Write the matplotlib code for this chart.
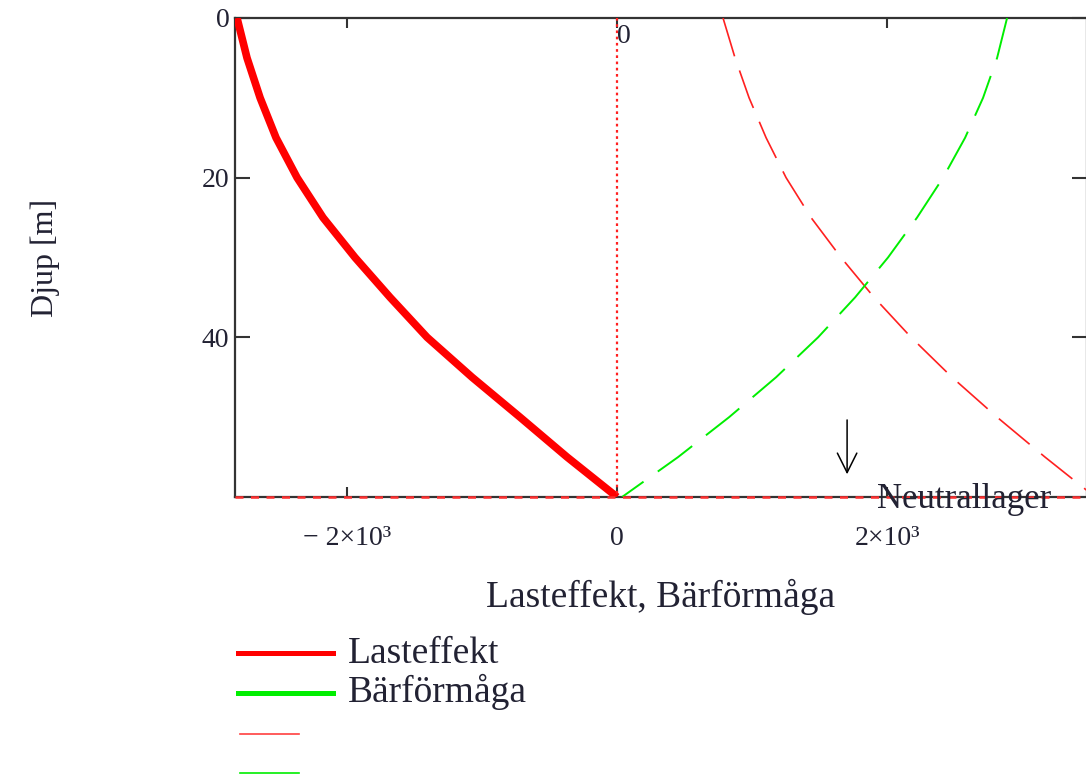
import matplotlib.pyplot as plt
from matplotlib.lines import Line2D

# data
djup = [0, 5, 10, 15, 20, 25, 30, 35, 40, 45, 50, 55, 60]
lasteffekt = [-2815, -2741, -2644, -2526, -2370, -2178, -1941, -1681, -1407, -1074, -719, -370, 0]
barformaga = [2889, 2815, 2711, 2578, 2415, 2222, 2007, 1763, 1489, 1178, 830, 452, 37]
last_streck = [785, 874, 978, 1104, 1252, 1437, 1659, 1904, 2178, 2481, 2815, 3170, 3541]
neutrallager = 60
pil_x = 1704
pil_djup = [50, 57.5]

x_ticks = [-2000, 0, 2000]
x_labels = ['\u2212 2\u00d710\u00b3', '0', '2\u00d710\u00b3']
y_ticks = [0, 20, 40]
y_labels = ['0', '20', '40']
legend_labels = ['Lasteffekt', 'B\u00e4rf\u00f6rm\u00e5ga']

txt = '#222233'
plt.rcParams['font.family'] = 'Liberation Serif'

fig = plt.figure(figsize=(10.86, 7.76), dpi=100)
W, H = 1086, 776
ax = fig.add_axes([235 / W, (H - 497) / H, (1087 - 235) / W, (497 - 18) / H])

# curves
ax.plot(lasteffekt, djup, color='#ff0000', lw=5.5, solid_capstyle='butt',
        solid_joinstyle='round', zorder=3)
ax.plot(last_streck, djup, color='#ff2020', lw=1.2, linestyle=(0, (24, 9)), zorder=3)
ax.plot(barformaga, djup, color='#00ee00', lw=1.4, linestyle=(0, (22, 9)), zorder=3)

# markers: x = 0 and the neutral layer
ax.plot([0, 0], [djup[0], djup[-1]], color='#ff2020', lw=1.6, linestyle=(0, (1.2, 1.6)), zorder=4)
ax.plot([-2830, 3481], [neutrallager, neutrallager], color='#ff3030', lw=1.8,
        linestyle=(0, (3.2, 3.0)), zorder=5, clip_on=False)
ax.text(0, 3.1, '0', fontsize=20, color=txt, ha='left', va='baseline', zorder=6)
ax.text(1926, 61.4, 'Neutrallager', fontsize=25, color=txt, ha='left', va='baseline',
        clip_on=False, zorder=6)
ax.annotate('', xy=(pil_x, pil_djup[1]), xytext=(pil_x, pil_djup[0]),
            arrowprops=dict(arrowstyle='->, head_width=0.35, head_length=0.7',
                            color='black', lw=1.1, mutation_scale=20))

ax.set_xlim(-2830, 3481)
ax.set_ylim(60, 0)

ax.set_xticks(x_ticks)
ax.set_xticklabels(x_labels)
ax.set_yticks(y_ticks)
ax.set_yticklabels(y_labels)
ax.tick_params(axis='x', direction='in', length=7, width=1.5, top=True, pad=21,
               labelsize=20, labelcolor=txt, color='#333333')
ax.tick_params(axis='y', direction='in', length=11, width=1.5, right=True, pad=4,
               labelsize=20, labelcolor=txt, color='#333333')
for s in ax.spines.values():
    s.set_color('#333333')
    s.set_linewidth(1.6)

ax.set_xlabel('Lasteffekt, B\u00e4rf\u00f6rm\u00e5ga', fontsize=27, color=txt)
ax.xaxis.set_label_coords(0.5, -(597 - 497) / 479)
ax.xaxis.label.set_va('center')
ax.set_ylabel('Djup [m]', fontsize=23, color=txt)
ax.yaxis.set_label_coords((45 - 235) / 852, 0.5)
ax.yaxis.label.set_va('center')

# legend drawn below the plot, like the original
fig.add_artist(Line2D([238 / W, 333 / W], [1 - 653 / H] * 2, color='#ff0000', lw=3.6))
fig.add_artist(Line2D([238 / W, 333 / W], [1 - 693 / H] * 2, color='#00ee00', lw=3.6))
fig.add_artist(Line2D([240 / W, 299 / W], [1 - 734 / H] * 2, color='#ff4040', lw=1.2))
fig.add_artist(Line2D([240 / W, 299 / W], [1 - 773 / H] * 2, color='#00ee00', lw=1.2))
fig.text(348 / W, 1 - 663 / H, legend_labels[0], fontsize=27, color=txt, va='baseline')
fig.text(348 / W, 1 - 702 / H, legend_labels[1], fontsize=27, color=txt, va='baseline')

fig.savefig('out.png', dpi=100)
